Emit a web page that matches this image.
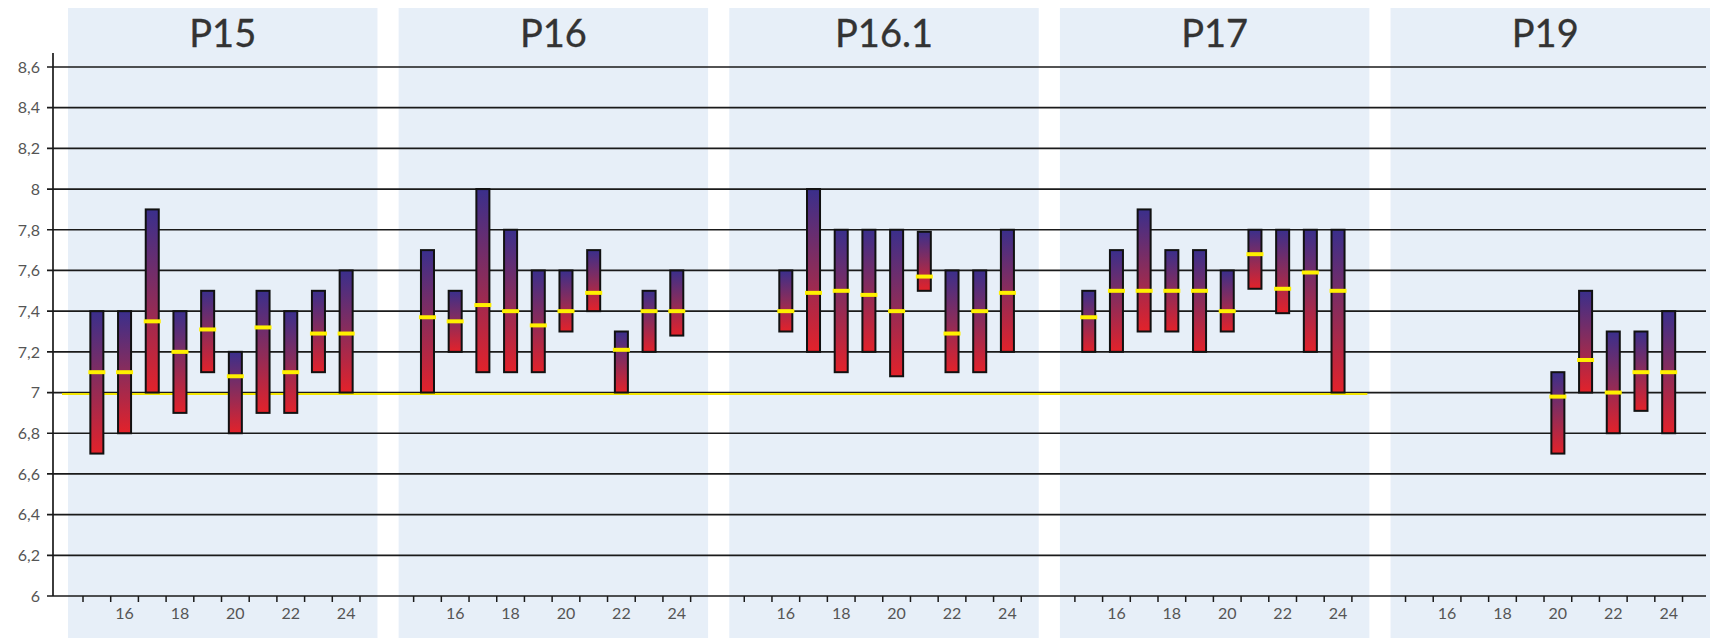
<!DOCTYPE html>
<html>
<head>
<meta charset="utf-8">
<script src="https://cdn.jsdelivr.net/npm/d3@7"></script>
<style>
  body { margin: 0; background: #fff; }
  svg text { font-family: "Lato", "DejaVu Sans", sans-serif; }
</style>
</head>
<body>
<div id="chart"></div>
<script>
// panels and hours
var panels = ["P15", "P16", "P16.1", "P17", "P19"];
var hours = [15, 16, 17, 18, 19, 20, 21, 22, 23, 24];
var yTicks = [6, 6.2, 6.4, 6.6, 6.8, 7, 7.2, 7.4, 7.6, 7.8, 8, 8.2, 8.4, 8.6];
var refValue = 7;

// min / max / median per hour, one array per panel
var lowP15 = [6.7, 6.8, 7.0, 6.9, 7.1, 6.8, 6.9, 6.9, 7.1, 7.0];
var highP15 = [7.4, 7.4, 7.9, 7.4, 7.5, 7.2, 7.5, 7.4, 7.5, 7.6];
var medP15 = [7.1, 7.1, 7.35, 7.2, 7.31, 7.08, 7.32, 7.1, 7.29, 7.29];

var lowP16 = [7.0, 7.2, 7.1, 7.1, 7.1, 7.3, 7.4, 7.0, 7.2, 7.28];
var highP16 = [7.7, 7.5, 8.0, 7.8, 7.6, 7.6, 7.7, 7.3, 7.5, 7.6];
var medP16 = [7.37, 7.35, 7.43, 7.4, 7.33, 7.4, 7.49, 7.21, 7.4, 7.4];

var lowP161 = [null, 7.3, 7.2, 7.1, 7.2, 7.08, 7.5, 7.1, 7.1, 7.2];
var highP161 = [null, 7.6, 8.0, 7.8, 7.8, 7.8, 7.79, 7.6, 7.6, 7.8];
var medP161 = [null, 7.4, 7.49, 7.5, 7.48, 7.4, 7.57, 7.29, 7.4, 7.49];

var lowP17 = [7.2, 7.2, 7.3, 7.3, 7.2, 7.3, 7.51, 7.39, 7.2, 7.0];
var highP17 = [7.5, 7.7, 7.9, 7.7, 7.7, 7.6, 7.8, 7.8, 7.8, 7.8];
var medP17 = [7.37, 7.5, 7.5, 7.5, 7.5, 7.4, 7.68, 7.51, 7.59, 7.5];

var lowP19 = [null, null, null, null, null, 6.7, 7.0, 6.8, 6.91, 6.8];
var highP19 = [null, null, null, null, null, 7.1, 7.5, 7.3, 7.3, 7.4];
var medP19 = [null, null, null, null, null, 6.98, 7.16, 7.0, 7.1, 7.1];

var lows = [lowP15, lowP16, lowP161, lowP17, lowP19];
var highs = [highP15, highP16, highP161, highP17, highP19];
var meds = [medP15, medP16, medP161, medP17, medP19];

var width = 1710, height = 638;
var margin = { top: 67, right: 4, bottom: 42, left: 53 };

var svg = d3
    .select("#chart")
    .append("svg")
    .attr("width", width)
    .attr("height", height);

var defs = svg.append("defs");
var grad = defs
    .append("linearGradient")
    .attr("id", "barGrad")
    .attr("x1", 0).attr("y1", 0)
    .attr("x2", 0).attr("y2", 1);
grad.append("stop").attr("offset", "0%").attr("stop-color", "#3a2f8c");
grad.append("stop").attr("offset", "50%").attr("stop-color", "#8b2c5a");
grad.append("stop").attr("offset", "100%").attr("stop-color", "#e3222a");

var y = d3
    .scaleLinear()
    .domain([6, 8.6])
    .range([height - margin.bottom, margin.top]);

// panel positions across the width
var xPanel = d3
    .scaleBand()
    .domain(panels)
    .range([68, 1700])
    .paddingInner(0.064);

// hour slots inside a panel
var xHour = d3
    .scaleBand()
    .domain(hours)
    .range([15, 292]);

// panel backgrounds
svg.append("g")
    .selectAll("rect")
    .data(panels)
    .enter()
    .append("rect")
    .attr("x", function (d) { return xPanel(d); })
    .attr("y", 8)
    .attr("width", function (d, i) { return i === panels.length - 1 ? width - xPanel(d) : xPanel.bandwidth(); })
    .attr("height", height - 8)
    .style("fill", "#e7eff8");

// titles
svg.append("g")
    .selectAll("text")
    .data(panels)
    .enter()
    .append("text")
    .attr("x", function (d) { return xPanel(d) + xPanel.bandwidth() / 2; })
    .attr("y", 47)
    .attr("text-anchor", "middle")
    .style("font-size", "38px")
    .style("fill", "#333")
    .style("stroke", "#333")
    .style("stroke-width", 0.35)
    .text(function (d) { return d; });

// horizontal grid
var xRight = width - margin.right;
svg.append("g")
    .selectAll("line")
    .data(yTicks.slice(1))
    .enter()
    .append("line")
    .attr("x1", margin.left - 6)
    .attr("x2", xRight)
    .attr("y1", function (d) { return y(d); })
    .attr("y2", function (d) { return y(d); })
    .style("stroke", "#1a1a1a")
    .style("stroke-width", 1.7);

// y axis labels
svg.append("g")
    .selectAll("text")
    .data(yTicks)
    .enter()
    .append("text")
    .attr("x", margin.left - 13)
    .attr("y", function (d) { return y(d); })
    .attr("dy", "0.36em")
    .attr("text-anchor", "end")
    .style("font-size", "16px")
    .style("fill", "#555")
    .text(function (d) { return d3.format("~g")(d).replace(".", ","); });

// y axis line
svg.append("line")
    .attr("x1", margin.left).attr("x2", margin.left)
    .attr("y1", margin.top - 14).attr("y2", y(6))
    .style("stroke", "#1a1a1a")
    .style("stroke-width", 1.7);

// x axis line
svg.append("line")
    .attr("x1", margin.left - 6).attr("x2", xRight)
    .attr("y1", y(6)).attr("y2", y(6))
    .style("stroke", "#1a1a1a")
    .style("stroke-width", 1.7);

// reference line at 7
svg.append("line")
    .attr("x1", margin.left + 9)
    .attr("x2", xPanel("P17") + xPanel.bandwidth() - 2)
    .attr("y1", y(refValue) + 1.5)
    .attr("y2", y(refValue) + 1.5)
    .style("stroke", "#f2e400")
    .style("stroke-width", 2);

// one group per panel
panels.forEach(function (p, i) {
    var g = svg.append("g")
        .attr("transform", "translate(" + xPanel(p) + ",0)");

    // tick marks at slot boundaries
    var bounds = hours.map(function (h) { return xHour(h); });
    bounds.push(xHour(hours[hours.length - 1]) + xHour.bandwidth());
    g.selectAll(".tick")
        .data(bounds)
        .enter()
        .append("line")
        .attr("x1", function (d) { return d; })
        .attr("x2", function (d) { return d; })
        .attr("y1", y(6))
        .attr("y2", y(6) + 6)
        .style("stroke", "#1a1a1a")
        .style("stroke-width", 1.5);

    g.selectAll(".lab")
        .data(hours.filter(function (h) { return h % 2 === 0; }))
        .enter()
        .append("text")
        .attr("x", function (d) { return xHour(d) + xHour.bandwidth() / 2; })
        .attr("y", y(6) + 23)
        .attr("text-anchor", "middle")
        .style("font-size", "16px")
        .style("fill", "#555")
        .text(function (d) { return d; });

    var rows = hours
        .map(function (h, k) {
            return { hour: h, low: lows[i][k], high: highs[i][k], med: meds[i][k] };
        })
        .filter(function (d) { return d.low !== null; });

    var bw = xHour.bandwidth() * 0.47;

    g.selectAll(".bar")
        .data(rows)
        .enter()
        .append("rect")
        .attr("x", function (d) { return xHour(d.hour) + (xHour.bandwidth() - bw) / 2; })
        .attr("y", function (d) { return y(d.high); })
        .attr("width", bw)
        .attr("height", function (d) { return y(d.low) - y(d.high); })
        .style("fill", "url(#barGrad)")
        .style("stroke", "#111")
        .style("stroke-width", 2);

    g.selectAll(".med")
        .data(rows)
        .enter()
        .append("rect")
        .attr("x", function (d) { return xHour(d.hour) + (xHour.bandwidth() - bw) / 2 - 2; })
        .attr("y", function (d) { return y(d.med) - 2; })
        .attr("width", bw + 4)
        .attr("height", 4)
        .style("fill", "#fff000");
});
</script>
</body>
</html>
